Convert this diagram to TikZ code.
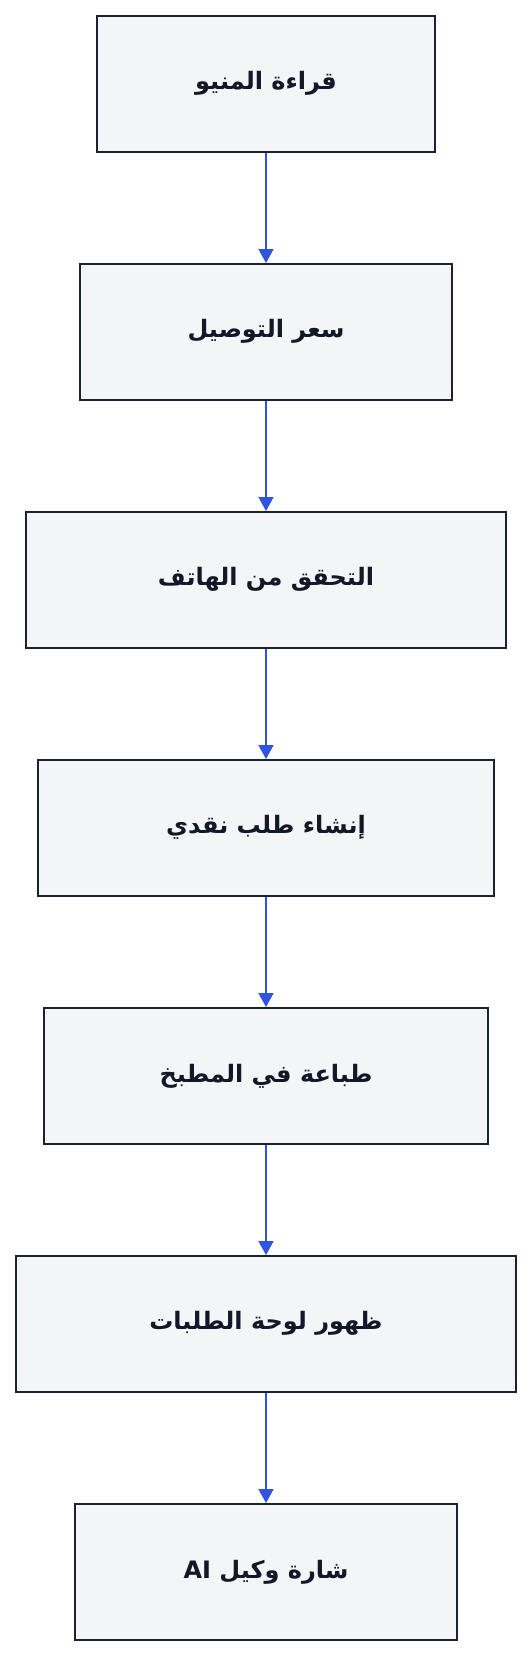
\documentclass[tikz,border=0pt]{standalone}
\usepackage{fontspec}
\usetikzlibrary{arrows.meta}
\TeXXeTstate=1
\newfontfamily\arabicfont[Script=Arabic]{DejaVu Sans}
\definecolor{boxfill}{HTML}{F4F5F7}
\definecolor{boxdraw}{HTML}{1A2233}
\definecolor{arrowblue}{HTML}{2D55E0}
\definecolor{txt}{HTML}{111827}
\tikzset{
  stepbox/.style={draw=boxdraw, fill=boxfill, line width=1.6pt, minimum height=136pt,
    inner sep=0pt, text=txt, font=\arabicfont\bfseries\fontsize{24pt}{28pt}\selectfont},
  flow/.style={draw=arrowblue, line width=1.6pt, -{Triangle[width=15pt,length=14pt]}}
}
\begin{document}
\begin{tikzpicture}
\fill[white] (0pt,0pt) rectangle (532pt,-1656pt);
\useasboundingbox (0pt,0pt) rectangle (532pt,-1656pt);
\node[stepbox, minimum width=338pt] (n1) at (266pt,-83.8pt) {\beginR قراءة المنيو\endR};
\node[stepbox, minimum width=372pt] (n2) at (266pt,-331.8pt) {\beginR سعر التوصيل\endR};
\node[stepbox, minimum width=480pt] (n3) at (266pt,-579.8pt) {\beginR التحقق من الهاتف\endR};
\node[stepbox, minimum width=456pt] (n4) at (266pt,-827.8pt) {\beginR إنشاء طلب نقدي\endR};
\node[stepbox, minimum width=444pt] (n5) at (266pt,-1075.8pt) {\beginR طباعة في المطبخ\endR};
\node[stepbox, minimum width=500pt] (n6) at (266pt,-1323.8pt) {\beginR ظهور لوحة الطلبات\endR};
\node[stepbox, minimum width=382pt] (n7) at (266pt,-1571.8pt) {\beginR شارة وكيل \beginL AI\endL\endR};
\draw[flow] (n1) -- (n2);
\draw[flow] (n2) -- (n3);
\draw[flow] (n3) -- (n4);
\draw[flow] (n4) -- (n5);
\draw[flow] (n5) -- (n6);
\draw[flow] (n6) -- (n7);
\end{tikzpicture}
\end{document}
